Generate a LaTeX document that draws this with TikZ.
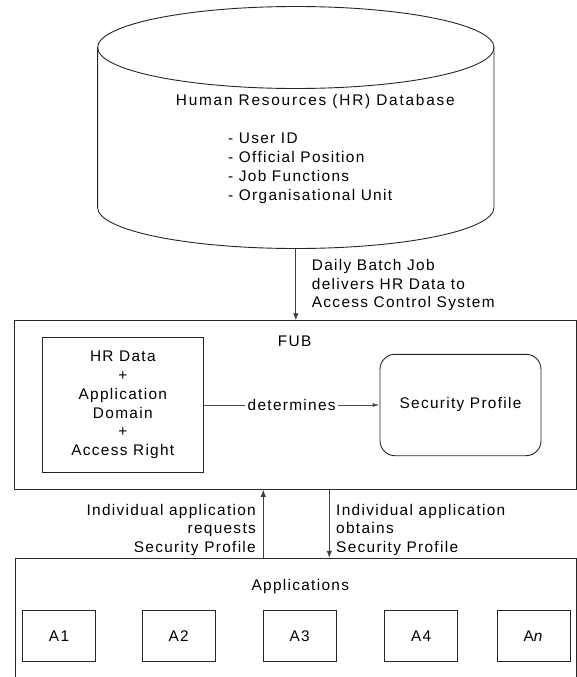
\documentclass[tikz,border=0pt]{standalone}
\usepackage{fontspec}
\setmainfont{Liberation Sans}[LetterSpace=8.5]
\usetikzlibrary{arrows.meta}
\begin{document}
\begin{tikzpicture}[x=1pt,y=-1pt,
  every node/.style={font=\fontsize{15.4}{18.8}\selectfont, inner sep=0pt},
  frame/.style={draw=black!85, line width=0.9pt},
  appbox/.style={frame, minimum width=73pt, minimum height=51pt},
  conn/.style={draw=black!75, line width=0.9pt, -{Latex[length=7pt,width=5.5pt]}},
  smallconn/.style={draw=black!70, line width=0.9pt, -{Latex[length=7pt,width=4pt]}}]
\clip (0,0) rectangle (577,677);
\fill[white] (0,0) rectangle (577,677);

% database cylinder
\draw[frame] (295.8,47.5) ellipse [x radius=198.2pt, y radius=41pt];
\draw[frame] (97.6,47.5) -- (97.6,207.5)
  arc[start angle=180, end angle=360, x radius=198.2pt, y radius=41pt] -- (494,47.5);
\coordinate (dbbot) at (295.8,248.5);
\node[anchor=base] (dbtitle) at (315.3,105.5) {\addfontfeatures{LetterSpace=11.5}Human Resources (HR) Database};
\node[anchor=west, align=left] (dblist) at (228,168.3)
  {- User ID\\- Official Position\\- Job Functions\\- Organisational Unit};

% FUB
\node[frame, minimum width=561.7pt, minimum height=168.6pt] (fub) at (295.15,405) {};
\node (fubt) at (294.7,341.7) {FUB};
\node[frame, align=center, minimum width=161pt, minimum height=134.6pt] (hr) at (122.8,405)
  {HR Data\\+\\Application\\Domain\\+\\Access Right};
\node[frame, rounded corners=15pt, minimum width=161pt, minimum height=101.4pt] (sp) at (460.5,405)
  {Security Profile};
\draw[smallconn] (hr) -- node[fill=white, inner xsep=2.5pt, inner ysep=0pt] (det) {determines} (sp);

% DB -> FUB
\draw[conn] (dbbot) -- (dbbot |- fub.north);
\node[anchor=west, align=left] (daily) at (311.7,285.1)
  {Daily Batch Job\\delivers HR Data to\\Access Control System};

% Applications
\node[frame, minimum width=561pt, minimum height=141.7pt] (apps) at (295.5,629.15) {};
\node (appst) at (300.3,586.7) {Applications};
\node[appbox] (a1) at (59,636.2) {A1};
\node[appbox] (a2) at (178.7,636.2) {A2};
\node[appbox] (a3) at (299.7,636.2) {A3};
\node[appbox] (a4) at (421.2,636.2) {A4};
\node[appbox] (an) at (533.7,636.2) {A\textit{n}};

\coordinate (upx) at (263.3,0);
\coordinate (downx) at (329.3,0);
\draw[conn] (upx |- apps.north) -- (upx |- fub.south);
\draw[conn] (downx |- fub.south) -- (downx |- apps.north);
\node[anchor=east, align=right] (req) at (256,529.9)
  {Individual application\\requests\\Security Profile};
\node[anchor=west, align=left] (obt) at (336,529.9)
  {Individual application\\obtains\\Security Profile};
\end{tikzpicture}
\end{document}
